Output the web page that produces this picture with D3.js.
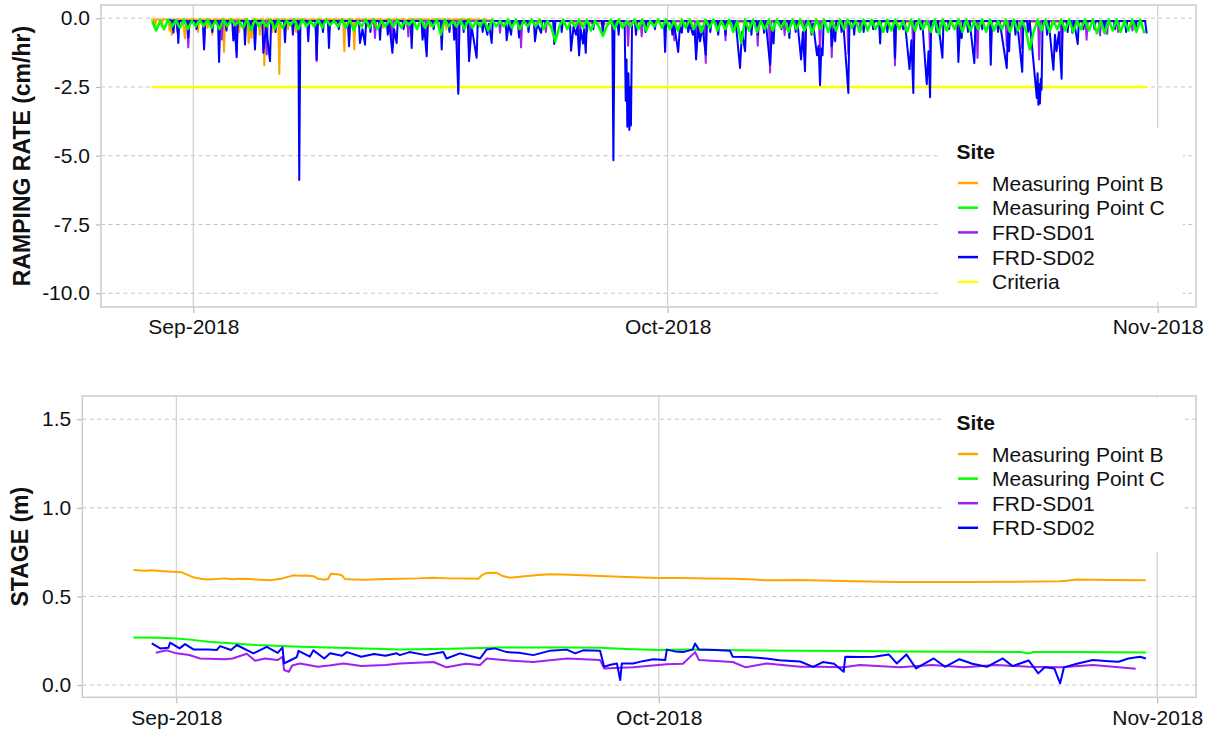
<!DOCTYPE html>
<html><head><meta charset="utf-8">
<script src="https://cdn.jsdelivr.net/npm/d3@7"></script>
<style>body{margin:0;background:#fff;} text{font-family:"Liberation Sans",Arial,sans-serif;}</style>
</head><body><svg id="c" width="1212" height="734"></svg>
<script>
// ---------- DATA (time = days since 2018-09-01 00:00 UTC) ----------
const siteNames = ["Measuring Point B","Measuring Point C","FRD-SD01","FRD-SD02"];
const siteColors = ["#FFA500","#00FF00","#A020F0","#0000FF"];
const criteriaName = "Criteria", criteriaColor = "#FFFF00";
const xTickDays = [0, 30, 61];
const rateTicks = [0, -2.5, -5, -7.5, -10];
const stageTicks = [0, 0.5, 1.0, 1.5];

// Ramping rate (cm/hr)
const rateB = [[-2.67,-0.05],[-2.49,-0.05],[-2.42,-0.37],[-2.35,-0.05],[-2.07,-0.05],[-2.0,-0.3],[-1.93,-0.05],
[-1.57,-0.05],[-1.5,-0.45],[-1.43,-0.1],[-1.37,-0.61],[-1.3,-0.05],[-1.07,-0.05],[-1.0,-0.5],[-0.93,-0.05],
[-0.67,-0.05],[-0.6,-0.4],[-0.53,-0.73],[-0.46,-0.05],[0.23,-0.05],[0.3,-0.5],[0.37,-0.05],[0.83,-0.05],[0.9,-0.35],[0.97,-0.05],
[1.13,-0.05],[1.2,-0.6],[1.27,-0.05],[1.87,-0.05],[1.94,-1.23],[2.01,-0.05],[2.83,-0.05],[2.9,-0.5],[2.97,-0.05],
[3.43,-0.05],[3.5,-0.9],[3.6,-0.3],[3.69,-0.72],[3.76,-0.05],[4.13,-0.05],[4.2,-0.6],[4.27,-0.05],[4.42,-0.05],[4.49,-1.71],[4.56,-0.05],
[4.93,-0.05],[5.0,-0.5],[5.07,-0.05],[5.37,-0.05],[5.44,-2.03],[5.51,-0.05],[5.93,-0.05],[6.0,-0.4],[6.07,-0.05],
[6.43,-0.05],[6.5,-0.5],[6.57,-0.05],[7.13,-0.05],[7.2,-0.3],[7.27,-0.05],[8.13,-0.05],[8.2,-0.35],[8.27,-0.05],
[9.48,-0.05],[9.55,-1.2],[9.62,-0.05],[10.11,-0.05],[10.18,-1.14],[10.25,-0.05],[10.93,-0.05],[11.0,-0.3],[11.07,-0.05],
[11.93,-0.05],[12.0,-0.35],[12.07,-0.05],[13.43,-0.05],[13.5,-0.3],[13.57,-0.05],[14.93,-0.05],[15.0,-0.3],[15.07,-0.05],
[15.93,-0.05],[16.0,-0.4],[16.07,-0.05],[17.93,-0.05],[18.0,-0.35],[18.07,-0.05],[20.0,-0.15],[23.0,-0.1],[26.0,-0.2],
[30.0,-0.12],[35.0,-0.15],[40.0,-0.12],[45.0,-0.15],[50.0,-0.12],[55.0,-0.15],[60.3,-0.1]];

const rateCStart = -2.6, rateCStep = 0.25;
const rateC = [
-0.1,-0.45,-0.1,-0.4, -0.05,-0.3,-0.08,-0.35, -0.05,-0.4,-0.1,-0.3, -0.05,-0.3,-0.05,-0.35,
-0.1,-0.4,-0.05,-0.3, -0.05,-0.25,-0.1,-0.35, -0.05,-0.45,-0.05,-0.3, -0.1,-0.3,-0.05,-0.4,
-0.05,-0.35,-0.1,-0.25, -0.05,-0.4,-0.05,-0.3, -0.1,-0.3,-0.05,-0.35, -0.05,-0.25,-0.1,-0.3,
-0.05,-0.35,-0.05,-0.45, -0.1,-0.3,-0.05,-0.35, -0.05,-0.4,-0.1,-0.3, -0.05,-0.3,-0.05,-0.35,
-0.1,-0.25,-0.05,-0.4, -0.05,-0.35,-0.1,-0.3, -0.05,-0.6,-0.05,-0.3, -0.1,-0.3,-0.05,-0.4,
-0.05,-0.35,-0.1,-0.3, -0.05,-0.45,-0.05,-0.3, -0.1,-0.3,-0.05,-0.35, -0.05,-0.4,-0.1,-0.3,
-0.05,-0.3,-0.05,-0.4, -0.1,-0.35,-0.84,-0.3, -0.05,-0.4,-0.1,-0.3, -0.05,-0.35,-0.05,-0.45,
-0.1,-0.3,-0.65,-0.3, -0.05,-0.4,-0.05,-0.35, -0.1,-0.3,-0.05,-0.4, -0.05,-0.45,-0.1,-0.3,
-0.05,-0.35,-0.05,-0.4, -0.1,-0.45,-0.05,-0.35, -0.05,-0.4,-0.1,-0.5, -0.05,-0.35,-0.05,-0.45,
-0.1,-0.4,-0.05,-0.5, -0.1,-0.9,-0.05,-0.45, -0.05,-0.5,-0.1,-0.4, -0.05,-0.45,-0.05,-0.35,
-0.1,-0.5,-0.05,-0.4, -0.05,-0.45,-0.1,-0.55, -0.05,-0.4,-0.05,-0.5, -0.1,-0.45,-0.05,-0.4,
-0.05,-0.35,-0.1,-0.5, -0.05,-0.45,-0.05,-0.4, -0.1,-0.5,-0.05,-0.45, -0.05,-0.4,-0.1,-0.5,
-0.05,-0.45,-0.05,-0.4, -0.1,-0.5,-0.05,-0.58, -0.05,-0.45,-0.1,-0.4, -0.05,-0.5,-0.05,-0.45,
-0.1,-0.4,-0.05,-0.5, -0.05,-0.45,-0.1,-0.4, -0.05,-0.5,-0.05,-0.45, -0.1,-0.4,-1.14,-0.5,
-0.05,-0.45,-0.05,-0.5, -0.1,-0.4,-0.05,-0.45, -0.05,-0.5,-0.1,-0.4, -0.05,-0.45,-0.05,-0.55,
-0.1,-0.55,-0.05,-0.45, -0.05,-0.5,-0.1,-0.45, -0.05,-0.5,-0.05,-0.55];

const rateSD01 = [[-1.28,-0.05],[-1.07,-0.1],[-1.0,-0.5],[-0.93,-0.1],[-0.39,-0.1],[-0.32,-1.06],[-0.25,-0.1],
[0.61,-0.1],[0.68,-1.0],[0.75,-0.1],[1.73,-0.1],[1.8,-0.77],[1.87,-0.1],[2.67,-0.1],[2.74,-1.2],[2.81,-0.1],
[3.83,-0.1],[3.9,-1.0],[3.97,-0.1],[4.57,-0.1],[4.64,-1.32],[4.71,-0.1],[6.63,-0.1],[6.7,-1.3],[6.77,-0.1],
[7.73,-0.1],[7.8,-1.56],[7.87,-0.1],[8.53,-0.1],[8.6,-0.43],[8.67,-0.1],[9.78,-0.1],[9.85,-0.8],[9.92,-0.1],
[11.42,-0.1],[11.49,-0.72],[11.56,-0.1],[12.52,-0.1],[12.59,-1.0],[12.66,-0.1],[13.53,-0.1],[13.6,-0.66],[13.67,-0.1],
[14.69,-0.1],[14.76,-1.2],[14.83,-0.1],[16.69,-0.1],[16.76,-2.65],[16.83,-0.1],[17.37,-0.1],[17.44,-1.3],[17.51,-0.1],
[19.33,-0.1],[19.4,-0.53],[19.47,-0.1],[20.66,-0.1],[20.73,-1.06],[20.8,-0.1],[22.23,-0.1],[22.3,-0.5],[22.37,-0.1],
[24.33,-0.1],[24.4,-1.1],[24.47,-0.1],[24.83,-0.1],[24.9,-0.5],[24.97,-0.1],[26.5,-0.1],[26.57,-0.9],[26.64,-0.1],
[27.43,-0.1],[27.5,-1.0],[27.57,-0.1],[28.29,-0.1],[28.36,-0.66],[28.43,-0.1],[30.35,-0.1],[30.42,-0.8],[30.49,-0.1],
[31.73,-0.1],[31.8,-1.2],[31.87,-0.1],[32.34,-0.1],[32.41,-1.63],[32.48,-0.1],[33.59,-0.1],[33.66,-0.8],[33.73,-0.1],
[35.63,-0.1],[35.7,-1.0],[35.77,-0.1],[36.41,-0.1],[36.48,-1.97],[36.55,-0.1],[37.33,-0.1],[37.4,-0.62],[37.47,-0.1],
[38.62,-0.1],[38.69,-1.5],[38.76,-0.1],[39.57,-0.1],[39.64,-1.2],[39.71,-0.1],[40.31,-0.1],[40.38,-1.42],[40.45,-0.1],
[41.36,-0.1],[41.43,-1.3],[41.5,-0.1],[42.13,-0.1],[42.2,-0.45],[42.27,-0.1],[44.31,-0.1],[44.38,-1.71],[44.45,-0.1],
[45.47,-0.1],[45.54,-1.5],[45.61,-0.1],[46.53,-0.1],[46.6,-1.3],[46.67,-0.1],[48.32,-0.1],[48.39,-1.1],[48.46,-0.1],
[49.53,-0.1],[49.6,-1.45],[49.67,-0.1],[50.37,-0.1],[50.44,-1.2],[50.51,-0.1],[51.38,-0.1],[51.45,-1.0],[51.52,-0.1],
[52.33,-0.1],[52.4,-1.08],[52.47,-0.1],[53.43,-0.1],[53.5,-1.5],[53.57,-0.1],[54.85,-0.1],[54.92,-1.2],[54.99,-0.1],
[56.43,-0.1],[56.5,-0.78],[56.57,-0.1],[57.28,-0.1],[57.35,-0.63],[57.42,-0.1],[57.73,-0.1],[57.8,-0.57],[57.87,-0.1],
[58.43,-0.1],[58.5,-0.5],[58.57,-0.1],[59.33,-0.1],[59.4,-0.45],[59.47,-0.1],[59.66,-0.1]];

const rateSD02 = [[-1.53,-0.05],[-1.33,-0.1],[-1.26,-0.53],[-1.19,-0.1],[-1.02,-0.1],[-0.95,-0.9],[-0.88,-0.1],
[-0.39,-0.1],[-0.32,-0.7],[-0.25,-0.1],[0.13,-0.1],[0.2,-0.4],[0.27,-0.1],[0.61,-0.1],[0.68,-1.14],[0.75,-0.1],
[1.13,-0.1],[1.2,-0.5],[1.27,-0.1],[1.56,-0.1],[1.63,-1.59],[1.7,-0.1],[2.03,-0.1],[2.1,-0.45],[2.17,-0.1],
[2.46,-0.1],[2.53,-0.81],[2.62,-0.3],[2.74,-1.42],[2.81,-0.1],[3.2,-0.1],[3.27,-0.96],[3.34,-0.1],[3.53,-0.1],[3.6,-0.4],[3.67,-0.1],
[3.83,-0.1],[3.9,-1.14],[3.97,-0.1],[4.36,-0.1],[4.43,-1.26],[4.6,-0.3],[4.85,-1.56],[4.92,-0.1],[5.13,-0.1],[5.2,-0.5],[5.27,-0.1],
[5.73,-0.1],[5.8,-0.87],[5.87,-0.1],[6.23,-0.1],[6.3,-0.6],[6.37,-0.1],[6.64,-0.1],[6.7,-5.88],[6.77,-0.1],
[7.2,-0.1],[7.27,-0.84],[7.34,-0.1],[7.73,-0.1],[7.8,-1.5],[7.87,-0.1],[8.13,-0.1],[8.2,-0.5],[8.27,-0.1],
[8.51,-0.1],[8.58,-1.08],[8.65,-0.1],[9.13,-0.1],[9.2,-0.4],[9.27,-0.1],[9.78,-0.1],[9.85,-1.02],[9.92,-0.1],
[10.47,-0.1],[10.54,-0.9],[10.7,-0.4],[10.86,-0.96],[10.93,-0.1],[11.13,-0.1],[11.2,-0.5],[11.27,-0.1],
[11.74,-0.1],[11.81,-0.78],[11.88,-0.1],[12.23,-0.1],[12.3,-0.6],[12.4,-0.2],[12.59,-1.26],[12.7,-0.4],[12.86,-0.9],[12.93,-0.1],
[13.23,-0.1],[13.3,-0.4],[13.37,-0.1],[13.74,-0.1],[13.81,-1.08],[13.88,-0.1],[14.43,-0.1],[14.5,-0.78],[14.6,-0.3],[14.76,-1.38],[14.83,-0.1],
[15.13,-0.1],[15.2,-0.4],[15.27,-0.1],[15.64,-0.1],[15.71,-1.14],[15.78,-0.1],[16.13,-0.1],[16.2,-0.5],[16.27,-0.1],
[16.43,-0.1],[16.5,-0.78],[16.6,-0.2],[16.76,-2.75],[16.83,-0.1],[17.03,-0.1],[17.1,-0.5],[17.17,-0.1],
[17.37,-0.1],[17.44,-1.56],[17.6,-0.3],[17.92,-1.44],[17.99,-0.1],[18.23,-0.1],[18.3,-0.5],[18.4,-0.1],[18.6,-0.6],[18.7,-0.2],[18.87,-0.9],[18.94,-0.1],
[19.75,-0.1],[19.82,-0.8],[19.95,-0.2],[20.1,-0.6],[20.17,-0.1],[20.53,-0.1],[20.6,-0.7],[20.67,-0.1],[21.13,-0.1],[21.2,-0.5],[21.27,-0.1],
[21.54,-0.1],[21.61,-0.84],[21.75,-0.2],[22.0,-0.53],[22.07,-0.1],[22.76,-0.1],[22.83,-0.94],[22.9,-0.1],[23.23,-0.1],[23.3,-0.5],[23.37,-0.1],
[23.82,-0.1],[23.89,-1.18],[24.05,-0.3],[24.2,-0.6],[24.3,-0.3],[24.4,-1.35],[24.5,-0.4],[24.65,-0.92],[24.72,-0.4],[24.82,-1.26],[24.89,-0.1],
[25.23,-0.1],[25.3,-0.4],[25.37,-0.1],[25.83,-0.1],[25.9,-0.5],[25.97,-0.1],[26.5,-0.1],[26.57,-5.16],[26.64,-0.1],
[26.83,-0.1],[26.9,-0.6],[26.97,-0.1],[27.28,-0.1],[27.35,-3.0],[27.4,-1.5],[27.45,-3.95],[27.52,-2.0],[27.58,-4.06],[27.63,-2.5],[27.68,-3.9],[27.75,-0.1],
[27.93,-0.1],[28.0,-0.6],[28.07,-0.1],[28.53,-0.1],[28.6,-0.5],[28.67,-0.1],[29.13,-0.1],[29.2,-0.4],[29.27,-0.1],
[29.77,-0.1],[29.84,-1.23],[29.91,-0.1],[30.23,-0.1],[30.3,-0.6],[30.4,-0.2],[30.67,-1.23],[30.78,-0.3],[30.9,-0.53],[30.97,-0.1],
[31.23,-0.1],[31.3,-0.5],[31.4,-0.2],[31.6,-0.6],[31.7,-0.3],[31.8,-1.5],[31.93,-0.3],[32.05,-0.84],[32.2,-0.3],[32.41,-1.32],[32.48,-0.1],
[32.63,-0.1],[32.7,-0.5],[32.77,-0.1],[33.13,-0.1],[33.2,-0.6],[33.27,-0.1],[33.59,-0.1],[33.66,-0.6],[33.73,-0.1],
[34.13,-0.1],[34.2,-0.4],[34.3,-0.1],[34.58,-1.81],[34.7,-0.5],[34.9,-1.2],[34.97,-0.1],[35.23,-0.1],[35.3,-0.6],[35.37,-0.1],
[35.63,-0.1],[35.7,-0.6],[35.77,-0.1],[36.03,-0.1],[36.1,-0.53],[36.2,-0.1],[36.48,-1.69],[36.6,-0.4],[36.7,-0.92],[36.77,-0.1],
[37.13,-0.1],[37.2,-0.4],[37.27,-0.1],[37.63,-0.1],[37.7,-0.72],[37.77,-0.1],[38.03,-0.1],[38.1,-0.5],[38.2,-0.1],[38.44,-1.5],[38.55,-0.5],[38.69,-1.93],[38.76,-0.1],
[39.03,-0.1],[39.1,-0.6],[39.2,-0.2],[39.45,-1.35],[39.55,-1.0],[39.64,-2.44],[39.72,-1.1],[39.8,-1.35],[39.87,-0.1],
[40.31,-0.1],[40.38,-1.02],[40.5,-0.4],[40.6,-0.84],[40.67,-0.1],[40.93,-0.1],[41.0,-0.5],[41.1,-0.1],[41.43,-2.72],[41.5,-0.1],
[41.73,-0.1],[41.8,-0.6],[41.87,-0.1],[42.33,-0.1],[42.4,-0.5],[42.47,-0.1],[42.93,-0.1],[43.0,-0.4],[43.07,-0.1],
[43.37,-0.1],[43.44,-0.92],[43.51,-0.1],[43.83,-0.1],[43.9,-0.5],[43.97,-0.1],[44.31,-0.1],[44.38,-1.44],[44.45,-0.1],
[44.83,-0.1],[44.9,-0.4],[45.0,-0.1],[45.3,-1.85],[45.42,-0.8],[45.54,-2.72],[45.61,-0.1],[45.93,-0.1],[46.0,-0.4],[46.1,-0.1],[46.39,-2.4],[46.5,-1.2],[46.6,-2.87],[46.67,-0.1],
[46.93,-0.1],[47.0,-0.5],[47.1,-0.1],[47.38,-1.44],[47.45,-0.1],[47.73,-0.1],[47.8,-0.4],[47.87,-0.1],
[48.32,-0.1],[48.39,-1.59],[48.5,-0.3],[48.6,-0.72],[48.67,-0.1],[48.93,-0.1],[49.0,-0.5],[49.1,-0.1],[49.4,-1.63],[49.47,-0.1],
[49.83,-0.1],[49.9,-0.4],[49.97,-0.1],[50.37,-0.1],[50.44,-1.69],[50.51,-0.1],[50.83,-0.1],[50.9,-0.5],[51.0,-0.1],[51.45,-1.81],[51.52,-0.5],[51.6,-1.2],[51.67,-0.1],
[51.93,-0.1],[52.0,-0.6],[52.1,-0.1],[52.43,-1.95],[52.5,-0.1],[52.73,-0.1],[52.8,-0.5],[52.9,-0.1],
[53.35,-2.9],[53.4,-2.0],[53.45,-3.15],[53.5,-2.4],[53.55,-3.1],[53.6,-2.2],[53.65,-2.6],[53.72,-0.1],
[53.93,-0.1],[54.0,-0.6],[54.1,-0.1],[54.4,-1.87],[54.5,-0.6],[54.6,-1.2],[54.75,-0.5],[54.92,-2.2],[54.99,-0.1],
[55.23,-0.1],[55.3,-0.5],[55.37,-0.1],[55.53,-0.1],[55.6,-0.53],[55.7,-0.1],[55.94,-0.94],[56.01,-0.1],
[56.23,-0.1],[56.3,-0.4],[56.37,-0.1],[56.93,-0.1],[57.0,-0.4],[57.07,-0.1],[57.53,-0.1],[57.6,-0.5],[57.67,-0.1],
[58.23,-0.1],[58.3,-0.4],[58.37,-0.1],[58.93,-0.1],[59.0,-0.5],[59.07,-0.1],[59.53,-0.1],[59.6,-0.4],[59.67,-0.1],[60.2,-0.1],[60.3,-0.55]];

const criteriaDays = [-2.63, 60.33];
const criteriaValue = -2.5;

// Stage (m)
const stageB = [[-2.67,0.649],[-2.0,0.645],[-1.5,0.648],[-1.0,0.643],[-0.5,0.641],[0.0,0.638],[0.34,0.636],[0.7,0.622],[1.06,0.608],
[1.5,0.6],[1.89,0.596],[2.5,0.598],[3.0,0.602],[3.5,0.597],[4.0,0.6],[4.5,0.598],[5.0,0.595],[5.83,0.592],[6.5,0.6],[7.0,0.612],
[7.28,0.619],[7.7,0.617],[8.1,0.618],[8.52,0.614],[8.8,0.6],[9.25,0.594],[9.45,0.6],[9.6,0.628],[10.0,0.625],[10.29,0.62],[10.49,0.598],
[11.0,0.596],[11.84,0.594],[12.5,0.597],[13.9,0.6],[15.0,0.602],[15.98,0.606],[17.0,0.602],[18.0,0.601],[18.78,0.6],[19.0,0.62],
[19.3,0.633],[19.9,0.634],[20.3,0.615],[20.75,0.606],[21.5,0.612],[22.5,0.621],[23.24,0.625],[24.5,0.622],[26.35,0.615],[28.0,0.61],
[30.0,0.604],[31.5,0.604],[33.0,0.601],[34.64,0.6],[36.0,0.595],[36.7,0.591],[38.8,0.593],[40.65,0.588],[43.0,0.585],[45.0,0.581],
[47.0,0.582],[49.15,0.581],[52.0,0.583],[54.96,0.586],[55.5,0.59],[56.0,0.595],[58.0,0.593],[60.29,0.591]];
const stageC = [[-2.67,0.269],[-1.0,0.267],[0.0,0.263],[1.0,0.255],[2.0,0.245],[3.55,0.235],[5.0,0.226],[7.7,0.216],[10.0,0.21],
[13.9,0.201],[17.0,0.205],[20.1,0.212],[24.0,0.212],[26.35,0.21],[28.0,0.203],[30.0,0.198],[32.0,0.2],[35.0,0.196],[38.8,0.194],
[42.0,0.192],[45.0,0.19],[49.0,0.188],[52.5,0.187],[53.0,0.178],[53.3,0.187],[56.0,0.186],[60.3,0.184]];
const stageSD01 = [[-1.28,0.182],[-0.6,0.196],[0.0,0.179],[0.8,0.17],[1.47,0.15],[3.0,0.146],[3.5,0.15],[4.38,0.177],[4.9,0.137],
[5.5,0.15],[6.3,0.141],[6.6,0.16],[6.7,0.085],[7.0,0.075],[7.2,0.11],[7.69,0.122],[8.8,0.103],[9.5,0.11],[10.4,0.122],[11.5,0.107],
[13.0,0.113],[13.9,0.122],[16.0,0.13],[16.8,0.1],[18.0,0.12],[18.89,0.113],[19.3,0.15],[20.5,0.14],[22.2,0.13],[24.3,0.15],
[26.35,0.141],[26.6,0.094],[28.4,0.1],[30.5,0.117],[31.5,0.12],[32.26,0.186],[32.5,0.141],[34.6,0.13],[35.4,0.1],[36.7,0.122],
[38.8,0.103],[40.0,0.103],[41.5,0.1],[42.5,0.113],[45.0,0.1],[47.0,0.113],[49.0,0.1],[51.0,0.113],[53.0,0.103],[55.0,0.1],
[57.0,0.113],[59.66,0.092]];
const stageSD02 = [[-1.53,0.235],[-1.0,0.207],[-0.5,0.21],[-0.39,0.239],[0.2,0.207],[0.54,0.231],[1.06,0.201],[2.0,0.2],[2.51,0.198],
[2.72,0.22],[3.4,0.198],[3.76,0.226],[4.79,0.179],[5.62,0.216],[6.3,0.182],[6.6,0.212],[6.7,0.122],[7.1,0.14],[7.49,0.158],[7.6,0.193],
[8.3,0.16],[8.52,0.196],[9.2,0.15],[9.56,0.179],[10.3,0.165],[10.6,0.186],[11.5,0.16],[12.3,0.175],[13.0,0.165],[13.7,0.179],
[13.9,0.169],[14.5,0.186],[15.5,0.169],[16.6,0.186],[16.8,0.15],[17.64,0.179],[18.89,0.15],[19.3,0.201],[19.8,0.207],[20.55,0.186],
[21.3,0.182],[22.2,0.169],[23.2,0.193],[24.28,0.2],[24.8,0.179],[25.3,0.196],[26.35,0.193],[26.6,0.103],[27.0,0.115],[27.4,0.122],
[27.6,0.028],[27.7,0.122],[28.4,0.122],[29.0,0.135],[29.66,0.146],[30.4,0.141],[30.5,0.2],[31.0,0.19],[31.5,0.186],[32.1,0.2],
[32.26,0.235],[32.5,0.2],[33.5,0.198],[34.43,0.193],[34.6,0.16],[35.5,0.158],[36.7,0.15],[37.5,0.14],[38.79,0.133],[39.6,0.103],
[40.2,0.13],[40.9,0.12],[41.5,0.075],[41.6,0.16],[42.5,0.158],[43.4,0.16],[44.3,0.173],[44.8,0.122],[45.4,0.173],[46.0,0.094],
[47.1,0.15],[47.8,0.103],[48.7,0.146],[49.5,0.12],[50.4,0.103],[51.4,0.15],[52.0,0.107],[53.0,0.139],[53.6,0.066],[54.0,0.1],
[54.6,0.094],[54.96,0.01],[55.2,0.1],[56.0,0.12],[57.0,0.141],[58.0,0.135],[58.6,0.132],[59.2,0.15],[59.93,0.16],[60.29,0.15]];

// ---------- DRAW ----------
const base = Date.UTC(2018, 8, 1);
const toDate = d => new Date(base + d * 864e5);
const svg = d3.select("#c");
const GRID_H = "#c4c4c4", GRID_V = "#d4d4d4", BORDER = "#cccccc";
const fmt1 = v => d3.format(".1f")(v).replace("\u2212", "-");

const rateSeries = [
  {color: criteriaColor, pts: criteriaDays.map(d => [d, criteriaValue]), lw: 2.5},
  {color: siteColors[0], pts: rateB, lw: 2},
  {color: siteColors[2], pts: rateSD01, lw: 2},
  {color: siteColors[3], pts: rateSD02, lw: 2},
  {color: siteColors[1], pts: rateC.map((v, i) => [rateCStart + i * rateCStep, v]), lw: 2.5}
];
const stageSeries = [
  {color: siteColors[0], pts: stageB, lw: 2},
  {color: siteColors[1], pts: stageC, lw: 2},
  {color: siteColors[2], pts: stageSD01, lw: 2},
  {color: siteColors[3], pts: stageSD02, lw: 2}
];

function panel(cfg) {
  const g = svg.append("g");
  const x = d3.scaleUtc().domain([toDate(cfg.xd[0]), toDate(cfg.xd[1])]).range([cfg.l, cfg.r]);
  const y = d3.scaleLinear().domain(cfg.yd).range([cfg.b, cfg.t]);
  g.selectAll(".vg").data(xTickDays).join("line")
    .attr("x1", d => x(toDate(d))).attr("x2", d => x(toDate(d)))
    .attr("y1", cfg.t).attr("y2", cfg.b)
    .attr("stroke", GRID_V).attr("stroke-width", 1.3);
  g.selectAll(".hg").data(cfg.yticks).join("line")
    .attr("x1", cfg.l).attr("x2", cfg.r)
    .attr("y1", d => y(d)).attr("y2", d => y(d))
    .attr("stroke", GRID_H).attr("stroke-width", 1).attr("stroke-dasharray", "4,3.5");
  const line = d3.line().x(d => x(toDate(d[0]))).y(d => y(d[1]));
  cfg.series.forEach(s => {
    g.append("path").datum(s.pts).attr("d", line)
      .attr("fill", "none").attr("stroke", s.color).attr("stroke-width", s.lw)
      .attr("stroke-linejoin", "round");
  });
  const ax = g.append("g").attr("transform", `translate(0,${cfg.b})`)
    .call(d3.axisBottom(x).tickValues(xTickDays.map(toDate)).tickFormat(d3.utcFormat("%b-%Y")).tickSize(6).tickPadding(6.5));
  const ay = g.append("g").attr("transform", `translate(${cfg.l},0)`)
    .call(d3.axisLeft(y).tickValues(cfg.yticks).tickFormat(fmt1).tickSize(5).tickPadding(6));
  [ax, ay].forEach(a => {
    a.select(".domain").remove();
    a.selectAll(".tick line").attr("stroke", "#b8b8b8").attr("stroke-width", 1.2);
    a.selectAll(".tick text").attr("fill", "#111").style("font-size", "21px")
      .style("font-family", '"Liberation Sans",Arial,sans-serif');
  });
  const L = cfg.leg;
  g.append("rect").attr("x", L.x0).attr("y", L.y0).attr("width", L.x1 - L.x0).attr("height", L.y1 - L.y0).attr("fill", "#fff");
  g.append("text").attr("x", L.tx).attr("y", L.titleY).attr("dy", "0.36em")
    .style("font-size", "21px").style("font-weight", "bold").attr("fill", "#111").text("Site");
  const items = g.selectAll(".li").data(L.items).join("g").attr("transform", (d, i) => `translate(0,${L.iy0 + i * L.step})`);
  items.append("line").attr("x1", L.kx0).attr("x2", L.kx1).attr("stroke", d => d.color).attr("stroke-width", 2.5);
  items.append("text").attr("x", L.textX).attr("dy", "0.36em").style("font-size", "21px").attr("fill", "#111").text(d => d.name);
  g.append("rect").attr("x", cfg.l).attr("y", cfg.t).attr("width", cfg.r - cfg.l).attr("height", cfg.b - cfg.t)
    .attr("fill", "none").attr("stroke", BORDER).attr("stroke-width", 1.5);
  g.append("text").attr("transform", `translate(${cfg.titleX},${(cfg.t + cfg.b) / 2}) rotate(-90)`)
    .attr("text-anchor", "middle").attr("dy", "0.36em")
    .style("font-size", "23px").style("font-weight", "bold").attr("fill", "#111").text(cfg.title);
}

panel({
  l: 101, r: 1196, t: 5, b: 307, xd: [-5.84, 63.42], yd: [-10.5, 0.48], yticks: rateTicks,
  series: rateSeries, title: "RAMPING RATE (cm/hr)", titleX: 22,
  leg: {x0: 941, x1: 1183, y0: 128, y1: 302, tx: 956.5, titleY: 151, iy0: 183, step: 24.7, kx0: 958, kx1: 978, textX: 992,
    items: siteNames.map((n, i) => ({name: n, color: siteColors[i]})).concat([{name: criteriaName, color: criteriaColor}])}
});

panel({
  l: 82.3, r: 1196, t: 396, b: 697.3, xd: [-5.85, 63.41], yd: [-0.069, 1.631], yticks: stageTicks,
  series: stageSeries, title: "STAGE (m)", titleX: 20,
  leg: {x0: 943, x1: 1181, y0: 398, y1: 552, tx: 956.5, titleY: 422, iy0: 454, step: 24.6, kx0: 958, kx1: 978, textX: 992,
    items: siteNames.map((n, i) => ({name: n, color: siteColors[i]}))}
});
</script></body></html>
